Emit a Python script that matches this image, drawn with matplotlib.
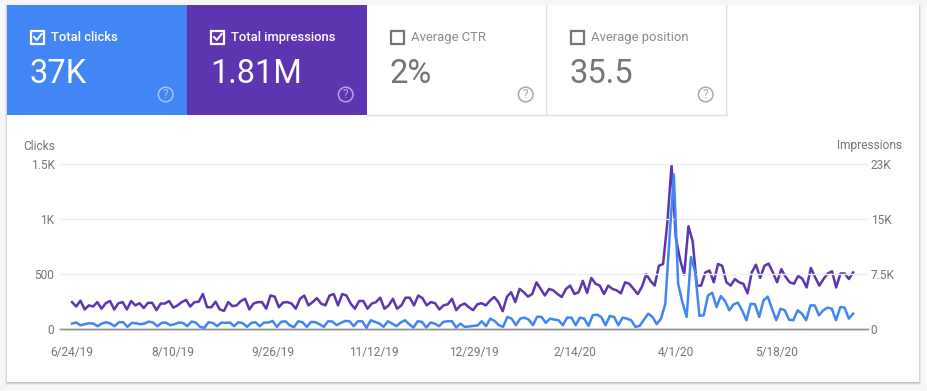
import numpy as np
import pandas as pd
import matplotlib
matplotlib.use("Agg")
import matplotlib.pyplot as plt
import matplotlib.dates as mdates
from matplotlib.patches import Rectangle, Circle

plt.rcParams['font.family'] = ['Roboto', 'DejaVu Sans']

impressions = [
 3600,3000,3800,2600,3150,3000,3600,2700,3450,3750,2600,3450,3600,2600,3750,3150,3450,2800,3500,3500,2500,3400,3400,3750,2850,3150,
 3600,3900,3000,3600,3650,4700,2900,2900,3650,2600,2400,3600,3050,3150,3750,4050,2600,3400,3600,3600,2700,4500,4350,2900,3550,3600,
 3400,2700,4050,4500,3150,3600,4150,3400,3150,4500,4700,3150,
 4700,4500,3400,2700,3750,3750,2700,3400,3600,4200,2700,3150,4050,2700,3150,4200,4200,3150,4500,4150,3150,3600,3450,2600,3150,3300,
 4050,2500,3150,3400,2900,2500,3300,3450,3150,3800,4300,3600,2350,4300,4950,3600,5400,4950,4350,4700,6300,5400,4500,5400,5200,4700,
 4300,5400,5850,4700,4950,6500,4850,6900,6100,5850,4700,5850,5400,5200,4800,6300,6100,5400,4700,
 5700,7400,6500,5850,8550,8800,14400,22300,12400,9450,7350,13950,11900,5850,5850,7650,7900,6300,8800,8550,6300,5850,6750,6300,6100,
 4800,7650,8700,6900,8550,8850,7650,6300,8100,7050,6300,6100,7200,6750,5600,8250,7000,5850,6750,7500,7800,5600,7500,7500,6750,7650]

clicks = [
 45,54,30,39,48,45,21,45,57,45,21,57,57,15,51,48,39,45,63,54,21,51,54,30,39,54,51,21,63,54,15,6,57,51,21,54,51,54,21,57,48,15,51,57,21,54,54,69,
 15,60,66,30,12,66,57,15,60,57,39,15,66,63,30,
 51,69,66,21,66,66,6,75,60,45,15,66,45,21,54,75,39,9,66,60,9,54,45,21,60,66,66,9,45,15,18,24,27,66,21,90,69,30,15,105,90,30,90,99,81,30,108,105,51,
 90,81,75,30,99,99,30,99,90,24,120,126,105,30,114,105,30,99,90,75,15,24,
 81,135,105,40,90,225,830,1400,410,240,105,650,515,115,120,300,325,195,295,250,165,220,235,165,75,225,220,105,255,290,180,75,180,165,80,75,165,135,
 75,210,210,120,165,190,180,75,195,190,90,135]

left_ticks = [0, 500, 1000, 1500]
left_labels = ['0', '500', '1K', '1.5K']
right_ticks = [0, 7500, 15000, 22500]
right_labels = ['0', '7.5K', '15K', '23K']
date_labels = ['6/24/19', '8/10/19', '9/26/19', '11/12/19', '12/29/19', '2/14/20', '4/1/20', '5/18/20']

tiles = [
 ('Total clicks', '37K', True),
 ('Total impressions', '1.81M', True),
 ('Average CTR', '2%', False),
 ('Average position', '35.5', False),
]

W, H = 927, 391
BLUE, PURPLE = '#4285f4', '#5e35b1'
GREY = '#757575'

fig = plt.figure(figsize=(W/100, H/100), dpi=100, facecolor='#f6f6f6')
bg = fig.add_axes([0, 0, 1, 1], zorder=0)
bg.set_xlim(0, W); bg.set_ylim(H, 0); bg.axis('off')

for off, a in [(3, .05), (2, .07), (1, .10)]:
    bg.add_patch(Rectangle((7-off+1, 5), 912+2*off-2, 377+off, fc='k', ec='none', alpha=a))
bg.add_patch(Rectangle((7, 5), 912, 377, fc='white', ec='none'))

tile_x = [7, 187, 367, 547]
tile_w = 180
tile_fill = [BLUE, PURPLE, None, None]
for (name, val, checked), x0, fill in zip(tiles, tile_x, tile_fill):
    if fill:
        bg.add_patch(Rectangle((x0, 5), tile_w, 110, fc=fill, ec='none'))
    fg = 'white' if checked else GREY
    lab = 'white' if checked else '#8a8a8a'
    bg.add_patch(Rectangle((x0+24.5, 31), 12.5, 12.5, fc='none', ec=fg, lw=1.6))
    if checked:
        bg.plot([x0+27, x0+29.8, x0+34.6], [37, 40, 34], color=fg, lw=1.4)
    bg.text(x0+44, 37.2, name, fontsize=9.4, color=lab, va='center', ha='left',
            fontweight='medium' if checked else 'normal')
    bg.text(x0+23, 74, val, fontsize=23.5, color='white' if checked else '#757575', va='center', ha='left')
    hc = '#a9c6fa' if fill == BLUE else ('#b9a5e6' if fill == PURPLE else '#a8a8a8')
    bg.add_patch(Circle((x0+158.7, 94.5), 7.3, fc='none', ec=hc, lw=1.1))
    bg.text(x0+158.7, 94.8, '?', fontsize=8.5, color=hc, ha='center', va='center')
    if not fill:
        bg.plot([x0+tile_w-.5]*2, [5, 115], color='#e0e0e0', lw=1)
bg.plot([367, 727], [115, 115], color='#e0e0e0', lw=1)

ax = fig.add_axes([60/W, 1-328.5/H, 808/W, 165.5/H], zorder=1)
ax.patch.set_alpha(0)
ax2 = ax.twinx()
ax2.patch.set_alpha(0)

start, end = pd.Timestamp('2019-06-24'), pd.Timestamp('2020-06-23')
x_imp = pd.date_range(start, end, periods=len(impressions))
x_clk = pd.date_range(start, end, periods=len(clicks))

ax.plot(x_clk, clicks, color=BLUE, lw=1.8, zorder=4, solid_joinstyle='round')
ax2.plot(x_imp, impressions, color=PURPLE, lw=1.8, zorder=3, solid_joinstyle='round')

ax.set_zorder(ax2.get_zorder()+1)
ax.patch.set_visible(False)

ax.set_ylim(0, 1505); ax2.set_ylim(0, 22575)
d0 = mdates.date2num(start)
ax.set_xlim(d0-12/2.14, d0+796/2.14)

ax.set_yticks(left_ticks, left_labels)
ax2.set_yticks(right_ticks, right_labels)
dates = [pd.to_datetime(d, format='%m/%d/%y') for d in date_labels]
ax.set_xticks(dates, date_labels)

ax.grid(axis='y', color='#eeeeee', lw=1)
ax.set_axisbelow(True)
for a in (ax, ax2):
    for s in ('top', 'left', 'right'):
        a.spines[s].set_visible(False)
    a.spines['bottom'].set_color('#8f8f8f')
    a.spines['bottom'].set_linewidth(1)
ax.tick_params(axis='x', length=0, pad=12.5, labelsize=8.6, labelcolor=GREY)
ax.tick_params(axis='y', length=0, pad=4, labelsize=8.6, labelcolor=GREY)
ax2.tick_params(axis='y', length=0, pad=2, labelsize=8.6, labelcolor=GREY)

bg.text(23, 146, 'Clicks', fontsize=8.6, color=GREY, ha='left', va='center')
bg.text(902, 146, 'Impressions', fontsize=8.6, color=GREY, ha='right', va='center')

fig.savefig('out.png', dpi=100, facecolor=fig.get_facecolor())
